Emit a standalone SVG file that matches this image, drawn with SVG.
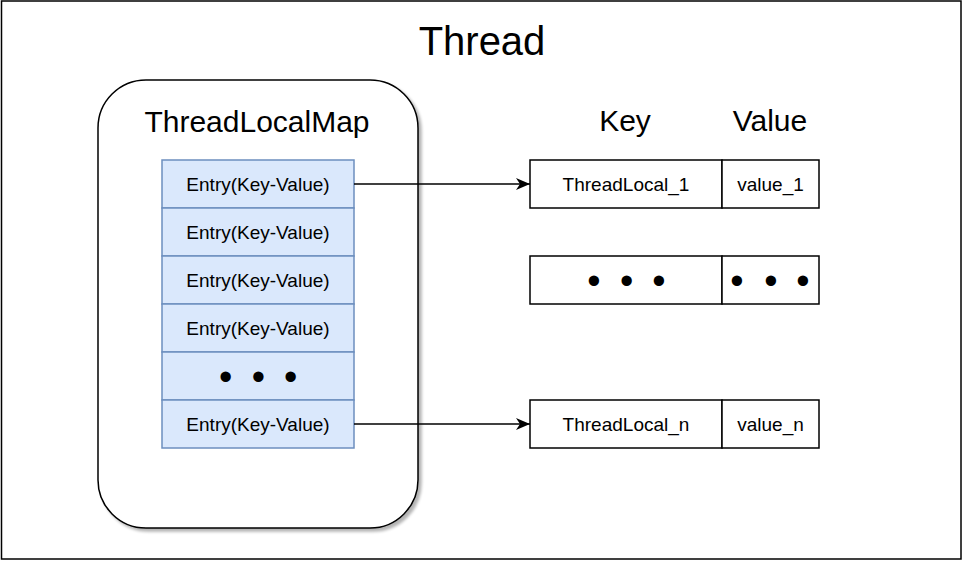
<svg xmlns="http://www.w3.org/2000/svg" width="963" height="561" viewBox="0 0 963 561">
<defs>
<style>
text{font-family:"Liberation Sans",Arial,sans-serif;fill:#000;text-anchor:middle}
.entry{fill:#dae8fc;stroke:#6c8ebf;stroke-width:1.5}
.cell{fill:#fff;stroke:#000;stroke-width:1.5}
.s18{font-size:19px}
.dots{font-size:38px}
.conn{stroke:#000;stroke-width:1.5;fill:none;marker-end:url(#arr)}
</style>
<marker id="arr" viewBox="0 0 14 12" refX="14" refY="6" markerWidth="14" markerHeight="12" markerUnits="userSpaceOnUse" orient="auto">
<path d="M0,0 L14,6 L0,12 L4,6 Z" fill="#000"/>
</marker>
<filter id="sh" x="-10%" y="-10%" width="130%" height="130%">
<feGaussianBlur in="SourceAlpha" stdDeviation="1.5"/>
<feOffset dx="3" dy="3" result="b"/>
<feComponentTransfer><feFuncA type="linear" slope="0.3"/></feComponentTransfer>
<feMerge><feMergeNode/><feMergeNode in="SourceGraphic"/></feMerge>
</filter>
</defs>
<rect width="963" height="561" fill="#fff"/>
<g id="thread">
<rect x="1.5" y="1" width="959.5" height="558" fill="#fff" stroke="#000" stroke-width="1.5"/>
<text x="482" y="55" style="font-size:40px">Thread</text>
</g>
<g id="threadLocalMap">
<rect x="98" y="80" width="320" height="448" rx="48" ry="48" fill="#fff" stroke="#000" stroke-width="1.5" filter="url(#sh)"/>
<text x="257" y="132" style="font-size:30px">ThreadLocalMap</text>
</g>
<g id="entry1"><rect class="entry" x="162" y="160" width="192" height="48"/><text class="s18" x="258" y="190.5">Entry(Key-Value)</text></g>
<g id="entry2"><rect class="entry" x="162" y="208" width="192" height="48"/><text class="s18" x="258" y="238.5">Entry(Key-Value)</text></g>
<g id="entry3"><rect class="entry" x="162" y="256" width="192" height="48"/><text class="s18" x="258" y="286.5">Entry(Key-Value)</text></g>
<g id="entry4"><rect class="entry" x="162" y="304" width="192" height="48"/><text class="s18" x="258" y="334.5">Entry(Key-Value)</text></g>
<g id="entryDots"><rect class="entry" x="162" y="352" width="192" height="48"/><text class="dots" x="225.7 258.3 290.7" y="389.5">•••</text></g>
<g id="entryN"><rect class="entry" x="162" y="400" width="192" height="48"/><text class="s18" x="258" y="430.5">Entry(Key-Value)</text></g>
<g id="headerKey"><text x="625" y="131" style="font-size:30px">Key</text></g>
<g id="headerValue"><text x="770" y="131" style="font-size:30px">Value</text></g>
<g id="key1"><rect class="cell" x="530" y="160" width="192" height="48"/><text class="s18" x="626" y="190.5">ThreadLocal_1</text></g>
<g id="value1"><rect class="cell" x="722" y="160" width="97" height="48"/><text class="s18" x="770.5" y="190.5">value_1</text></g>
<g id="keyDots"><rect class="cell" x="530" y="256" width="192" height="48"/><text class="dots" x="594 626.7 659" y="293.5">•••</text></g>
<g id="valueDots"><rect class="cell" x="722" y="256" width="97" height="48"/><text class="dots" x="737 771 803" y="293.5">•••</text></g>
<g id="keyN"><rect class="cell" x="530" y="400" width="192" height="48"/><text class="s18" x="626" y="430.5">ThreadLocal_n</text></g>
<g id="valueN"><rect class="cell" x="722" y="400" width="97" height="48"/><text class="s18" x="770.5" y="430.5">value_n</text></g>
<g id="connectors">
<path class="conn" d="M354,184 L530,184"/>
<path class="conn" d="M354,424 L530,424"/>
</g>
</svg>
